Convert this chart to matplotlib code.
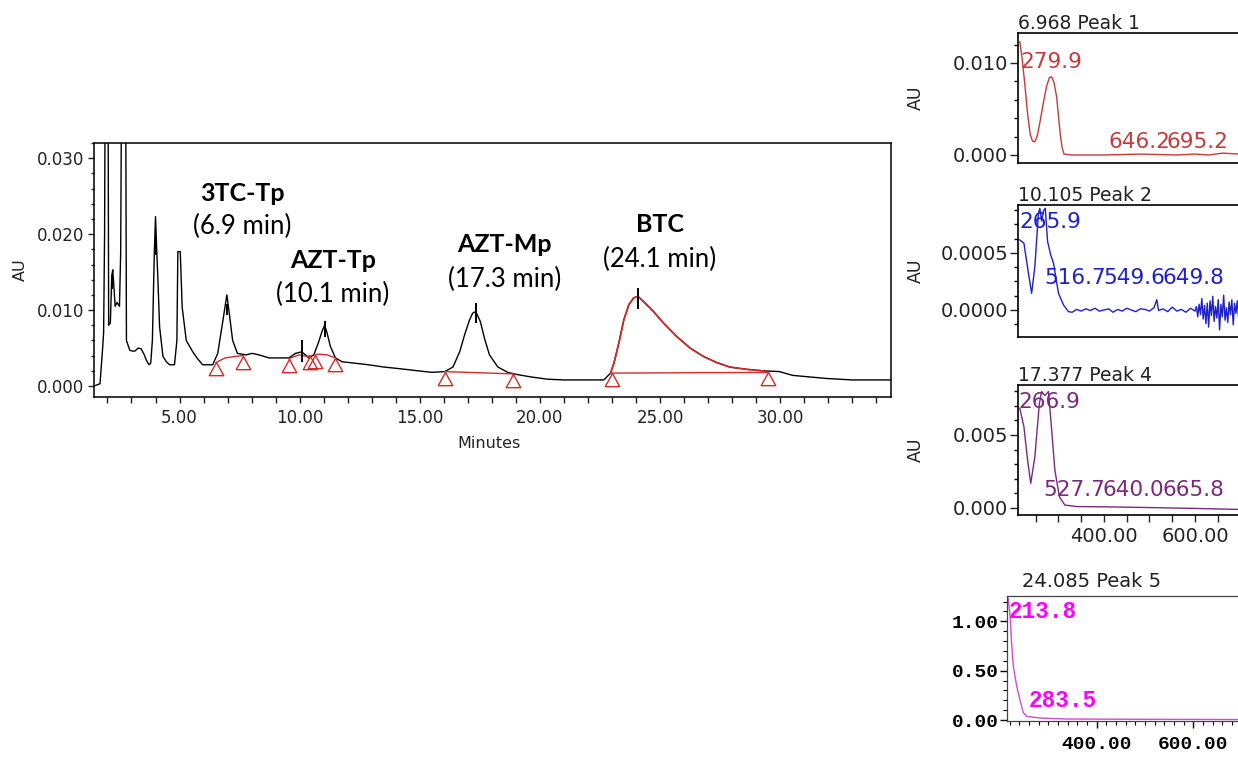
import numpy as np
import matplotlib.pyplot as plt
from matplotlib.path import Path
from matplotlib.ticker import MultipleLocator, FixedLocator, FormatStrFormatter

# Chromatogram (minutes, AU)
time_min = [1.44, 1.69, 1.80, 1.84, 1.88, 1.93, 2.01, 2.05, 2.12, 2.18,
            2.22, 2.27, 2.32, 2.40, 2.50, 2.55, 2.62, 2.74, 2.79, 2.93,
            3.05, 3.14, 3.28, 3.40, 3.52, 3.62, 3.73, 3.80, 3.87, 3.95,
            4.00, 4.05, 4.10, 4.17, 4.31, 4.45, 4.59, 4.79, 4.89, 4.93,
            5.03, 5.11, 5.28, 5.55, 5.75, 5.96, 6.38, 6.59, 6.79, 6.97,
            7.07, 7.21, 7.41, 7.76, 8.03, 8.31, 8.73, 9.14, 9.55, 9.83,
            10.08, 10.24, 10.38, 10.59, 10.79, 10.93, 11.04, 11.14, 11.28, 11.49,
            11.76, 12.31, 12.86, 13.50, 14.11, 14.93, 15.50, 16.04, 16.38, 16.66,
            16.87, 17.07, 17.20, 17.33, 17.52, 17.69, 17.90, 18.25, 18.66, 19.07,
            19.62, 20.31, 21.01, 21.83, 22.66, 22.94, 23.08, 23.28, 23.49, 23.70,
            23.90, 24.08, 24.32, 24.73, 25.14, 25.70, 26.25, 26.80, 27.35, 27.90,
            28.59, 29.28, 29.97, 30.52, 31.90, 33.01, 34.60]
absorb_au = [0.0000, 0.0003, 0.0050, 0.0070, 0.0199, 0.0600, 0.0600, 0.0080, 0.0083, 0.0145,
             0.0153, 0.0130, 0.0105, 0.0110, 0.0105, 0.0175, 0.0600, 0.0600, 0.0060, 0.0047,
             0.0046, 0.0046, 0.0050, 0.0049, 0.0042, 0.0034, 0.0028, 0.0030, 0.0060, 0.0175,
             0.0223, 0.0180, 0.0140, 0.0078, 0.0039, 0.0032, 0.0028, 0.0028, 0.0060, 0.0177,
             0.0177, 0.0104, 0.0060, 0.0045, 0.0036, 0.0028, 0.0028, 0.0043, 0.0083, 0.0120,
             0.0096, 0.0060, 0.0043, 0.0041, 0.0043, 0.0041, 0.0037, 0.0037, 0.0037, 0.0043,
             0.0045, 0.0041, 0.0037, 0.0041, 0.0058, 0.0072, 0.0080, 0.0070, 0.0052, 0.0037,
             0.0032, 0.0030, 0.0028, 0.0025, 0.0023, 0.0020, 0.0018, 0.0019, 0.0025, 0.0045,
             0.0068, 0.0087, 0.0096, 0.0098, 0.0085, 0.0063, 0.0041, 0.0025, 0.0018, 0.0015,
             0.0012, 0.0009, 0.0008, 0.0008, 0.0008, 0.0017, 0.0030, 0.0056, 0.0087, 0.0107,
             0.0116, 0.0118, 0.0111, 0.0098, 0.0083, 0.0065, 0.0050, 0.0039, 0.0031, 0.0025,
             0.0022, 0.0020, 0.0019, 0.0014, 0.0010, 0.0008, 0.0008]

# BTC peak window (drawn in red)
btc_start, btc_end = 22.94, 29.28

# Integration baselines
base1_t, base1_au = [6.52, 6.90, 7.30, 7.65], [0.0031, 0.0037, 0.0039, 0.0040]
base2_t, base2_au = [9.55, 9.97, 10.31, 10.45], [0.0036, 0.0041, 0.0039, 0.0040]
base3_t, base3_au = [10.62, 10.79, 11.14, 11.49], [0.0041, 0.0042, 0.0041, 0.0037]
base4_t, base4_au = [16.04, 18.87], [0.0019, 0.0016]
base5_t, base5_au = [23.00, 29.49], [0.0017, 0.0018]
baselines = [(base1_t, base1_au), (base2_t, base2_au), (base3_t, base3_au),
             (base4_t, base4_au), (base5_t, base5_au)]

# Peak apex marks
apex_t = [2.20, 4.01, 6.97, 10.08, 11.04, 17.33, 24.08]
apex_lo = [0.0128, 0.0173, 0.0094, 0.0032, 0.0065, 0.0083, 0.0102]
apex_hi = [0.0146, 0.0195, 0.0108, 0.0061, 0.0085, 0.0109, 0.0129]

peak_names = ['3TC-Tp', 'AZT-Tp', 'AZT-Mp', 'BTC']
peak_times = ['(6.9 min)', '(10.1 min)', '(17.3 min)', '(24.1 min)']

# UV spectra of the peaks (nm, AU)
p1_nm = [215, 220, 226, 232, 238, 243, 248, 253, 259, 266, 274, 280, 285, 290, 296,
         300, 304, 308, 312, 330, 400, 480, 560, 600, 630, 660, 700]
p1_au = [0.0123, 0.0105, 0.0077, 0.0045, 0.0022, 0.0015, 0.00145, 0.0020, 0.0035, 0.0055,
         0.0075, 0.0084, 0.0085, 0.0079, 0.0063, 0.0042, 0.0022, 0.0008, 0.0001, 0.0000,
         0.0000, 0.0001, 0.0000, 0.0001, 0.0000, 0.0002, 0.0001]

p2_nm = [215, 224, 234, 241, 248, 256, 259, 263, 267, 271, 276, 283, 289, 300, 311, 322,
         330, 340, 350, 360, 370, 380, 390, 400, 410, 420, 430, 440, 450, 460, 470,
         480, 490, 500, 510, 516, 520, 530, 540, 550, 560, 570, 580, 590, 600,
         603, 606, 609, 612, 615, 618, 621, 624, 627, 630, 633, 636, 639, 642, 645,
         648, 651, 654, 657, 660, 663, 666, 669, 672, 675, 678, 681, 684, 687, 690,
         693, 696, 699]
p2_au = [0.000614, 0.000585, 0.00032, 0.000146, 0.00038, 0.00085, 0.00089, 0.00078,
         0.00087, 0.00089, 0.00060, 0.00048, 0.00041, 0.000146, 0.000044, -0.000015,
         -0.00002, 0.000005, -0.00001, 0.00001, -0.000005, 0.000015, -0.00001, 0.0,
         0.00001, -0.00002, 0.000005, -0.00001, 0.000015, 0.0, -0.000015, 0.00001,
         0.000005, -0.00001, 0.00002, 0.00009, -0.000005, 0.00001, -0.000015, 0.000025,
         -0.00001, 0.000005, -0.00002, 0.000015, -0.00001,
         0.00003, -0.00006, 0.00005, -0.00004, 0.00010, -0.00008, 0.00004, -0.00012,
         0.00006, -0.00015, 0.00008, -0.00005, 0.00012, -0.00010, 0.00003, -0.00007,
         0.00009, -0.000175, 0.00005, -0.00006, 0.00013, -0.00009, 0.00002, -0.00011,
         0.00007, -0.00004, 0.00009, -0.00013, 0.00006, -0.00003, 0.00008, -0.00008,
         0.00004]

p3_nm = [215, 224, 232, 239, 248, 258, 263, 270, 278, 285, 292, 302, 314, 340, 400,
         500, 600, 700]
p3_au = [0.00683, 0.00557, 0.00329, 0.00169, 0.0035, 0.00717, 0.00797, 0.0077, 0.00797,
         0.00534, 0.0026, 0.00077, 0.0002, 0.0001, 0.00008, 0.00003, -0.00003, -0.0001]

p4_nm = [217, 221, 224, 227.5, 234.5, 241, 248, 255, 283, 338, 500, 689, 800]
p4_au = [1.233, 1.05, 0.78, 0.546, 0.345, 0.21, 0.077, 0.037, 0.020, 0.010, 0.007,
         0.005, 0.005]
spec_ticks = [400, 600]

W, H = 1238, 758
RED = '#d42a2a'


def box(left, top, right, bottom):
    # pixel box -> figure fraction
    return [left / W, 1 - bottom / H, (right - left) / W, (bottom - top) / H]


fig = plt.figure(figsize=(W / 100, H / 100), dpi=100)

# Main chromatogram
ax = fig.add_axes(box(94, 143, 890.7, 396.5))
t = np.array(time_min)
a = np.array(absorb_au)
ax.plot(t, a, color='black', lw=1.0)
m = (t >= btc_start) & (t <= btc_end)
ax.plot(t[m], a[m], color=RED, lw=1.2)
for bt, ba in baselines:
    ax.plot(bt, ba, color=RED, lw=1.0)

tri = Path([(0, 0), (-0.55, -1), (0.55, -1), (0, 0)],
           [Path.MOVETO, Path.LINETO, Path.LINETO, Path.CLOSEPOLY])
tri_t = [p for bt, ba in baselines for p in (bt[0], bt[-1])]
tri_au = [p for bt, ba in baselines for p in (ba[0], ba[-1])]
ax.plot(tri_t, tri_au, ls='none', marker=tri, ms=19, mfc='none', mec=RED, mew=1.0)
ax.vlines(apex_t, apex_lo, apex_hi, color='black', lw=1.4)

ax.set_xlim(1.44, 34.6)
ax.set_ylim(-0.00138, 0.0320)
ax.xaxis.set_major_locator(MultipleLocator(5))
ax.xaxis.set_minor_locator(MultipleLocator(1))
ax.xaxis.set_major_formatter(FormatStrFormatter('%.2f'))
ax.set_yticks([0, 0.01, 0.02, 0.03])
ax.yaxis.set_minor_locator(MultipleLocator(0.002))
ax.yaxis.set_major_formatter(FormatStrFormatter('%.3f'))
ax.tick_params(which='both', direction='out', width=1, labelsize=12, colors='#222222')
ax.tick_params(axis='x', which='both', length=4, pad=5)
ax.tick_params(axis='y', which='major', length=4, pad=3)
ax.tick_params(axis='y', which='minor', length=2)
for s in ax.spines.values():
    s.set_linewidth(1.1)

fig.text(20 / W, 1 - 270 / H, 'AU', rotation=90, ha='center', va='center',
         fontsize=11.5, color='#222222')
fig.text(489 / W, 1 - 443 / H, 'Minutes', ha='center', va='center',
         fontsize=11.5, color='#222222')

label_pos = [(7.60, 0.02539, 0.02099), (11.39, 0.01647, 0.01199),
             (18.52, 0.01858, 0.01397), (25.0, 0.02121, 0.0166)]
for name, when, (x, y1, y2) in zip(peak_names, peak_times, label_pos):
    ax.text(x, y1, name, ha='center', va='center', family='Lato',
            fontweight='bold', fontsize=18)
    ax.text(x, y2, when, ha='center', va='center', family='Lato', fontsize=18.5)


# Spectrum panels
def spectrum_axes(rect, nm, au, color, xlim, ylim, yticks, yfmt, yminor, title):
    sp = fig.add_axes(rect)
    sp.plot(nm, au, color=color, lw=1.0)
    sp.set_xlim(*xlim)
    sp.set_ylim(*ylim)
    sp.set_yticks(yticks)
    sp.yaxis.set_major_formatter(FormatStrFormatter(yfmt))
    sp.yaxis.set_minor_locator(MultipleLocator(yminor))
    sp.tick_params(axis='y', which='major', direction='out', length=6, width=1,
                   labelsize=14, pad=1, colors='#222222')
    sp.tick_params(axis='y', which='minor', direction='out', length=3, width=1)
    sp.set_xticks([])
    for s in sp.spines.values():
        s.set_linewidth(1.2)
    sp.text(0, 1.0, title, transform=sp.transAxes, ha='left', va='bottom',
            fontsize=13.5, color='#222222')
    return sp


ax1 = spectrum_axes(box(1018, 33, 1286, 163), p1_nm, p1_au, '#c83a3a', (211, 800),
                    (-0.00087, 0.01326), [0, 0.01], '%.3f', 0.002, '6.968 Peak 1')
ax2 = spectrum_axes(box(1018, 205, 1286, 337), p2_nm, p2_au, '#2020c8', (211, 800),
                    (-0.000237, 0.00092), [0, 0.0005], '%.4f', 0.000125, '10.105 Peak 2')
ax3 = spectrum_axes(box(1018, 385, 1286, 515), p3_nm, p3_au, '#7a2a7a', (211, 800),
                    (-0.00048, 0.00842), [0, 0.005], '%.3f', 0.001, '17.377 Peak 4')
ax3.xaxis.set_major_locator(FixedLocator(spec_ticks))
ax3.xaxis.set_minor_locator(MultipleLocator(50))
ax3.xaxis.set_major_formatter(FormatStrFormatter('%.2f'))
ax3.tick_params(axis='x', which='both', direction='out', length=5, width=1,
                labelsize=14, pad=4, colors='#222222')

for sp, fig_ylab in [(ax1, 98), (ax2, 271), (ax3, 450)]:
    fig.text(916 / W, 1 - fig_ylab / H, 'AU', rotation=90, ha='center', va='center',
             fontsize=12.5, color='#222222')

for sp, col, labels in [
        (ax1, '#c83a3a', [('279.9', 0.0075, 0.779), ('646.2', 0.337, 0.164), ('695.2', 0.555, 0.164)]),
        (ax2, '#2020c8', [('265.9', 0.005, 0.873), ('516.7', 0.097, 0.447),
                          ('549.6', 0.318, 0.447), ('649.8', 0.54, 0.447)]),
        (ax3, '#7a2a7a', [('266.9', 0.001, 0.872), ('527.7', 0.094, 0.192),
                          ('640.0', 0.317, 0.192), ('665.8', 0.54, 0.192)])]:
    for s, x, y in labels:
        sp.text(x, y, s, transform=sp.transAxes, color=col, fontsize=15.5,
                ha='left', va='center')

# Peak 5 panel (different style)
mono = dict(family='Liberation Mono', weight='bold')
ax4 = fig.add_axes(box(1007, 596, 1290, 720.5))
ax4.plot(p4_nm, p4_au, color='#d04cd0', lw=1.0)
ax4.set_xlim(214.5, 800)
ax4.set_ylim(-0.005, 1.256)
ax4.set_yticks([0, 0.5, 1.0])
ax4.yaxis.set_minor_locator(MultipleLocator(0.1))
ax4.yaxis.set_major_formatter(FormatStrFormatter('%.2f'))
ax4.xaxis.set_major_locator(FixedLocator(spec_ticks))
ax4.xaxis.set_minor_locator(MultipleLocator(20))
ax4.xaxis.set_major_formatter(FormatStrFormatter('%.2f'))
ax4.tick_params(which='major', direction='out', length=5, width=1, labelsize=14)
ax4.tick_params(which='minor', direction='out', length=3, width=0.8)
ax4.tick_params(axis='y', pad=1)
ax4.tick_params(axis='x', pad=6)
for lab in ax4.get_xticklabels() + ax4.get_yticklabels():
    lab.set_fontfamily('Liberation Mono')
    lab.set_fontweight('bold')
for s in ax4.spines.values():
    s.set_linewidth(0.9)
    s.set_color('#444444')
ax4.text(0.052, 1.04, '24.085 Peak 5', transform=ax4.transAxes, ha='left',
         va='bottom', fontsize=14, color='#222222')
ax4.text(0.005, 0.874, '213.8', transform=ax4.transAxes, color='#ff00ff',
         fontsize=16.3, ha='left', va='center', **mono)
ax4.text(0.075, 0.159, '283.5', transform=ax4.transAxes, color='#ff00ff',
         fontsize=16.3, ha='left', va='center', **mono)

plt.savefig('out.png', dpi=100)
